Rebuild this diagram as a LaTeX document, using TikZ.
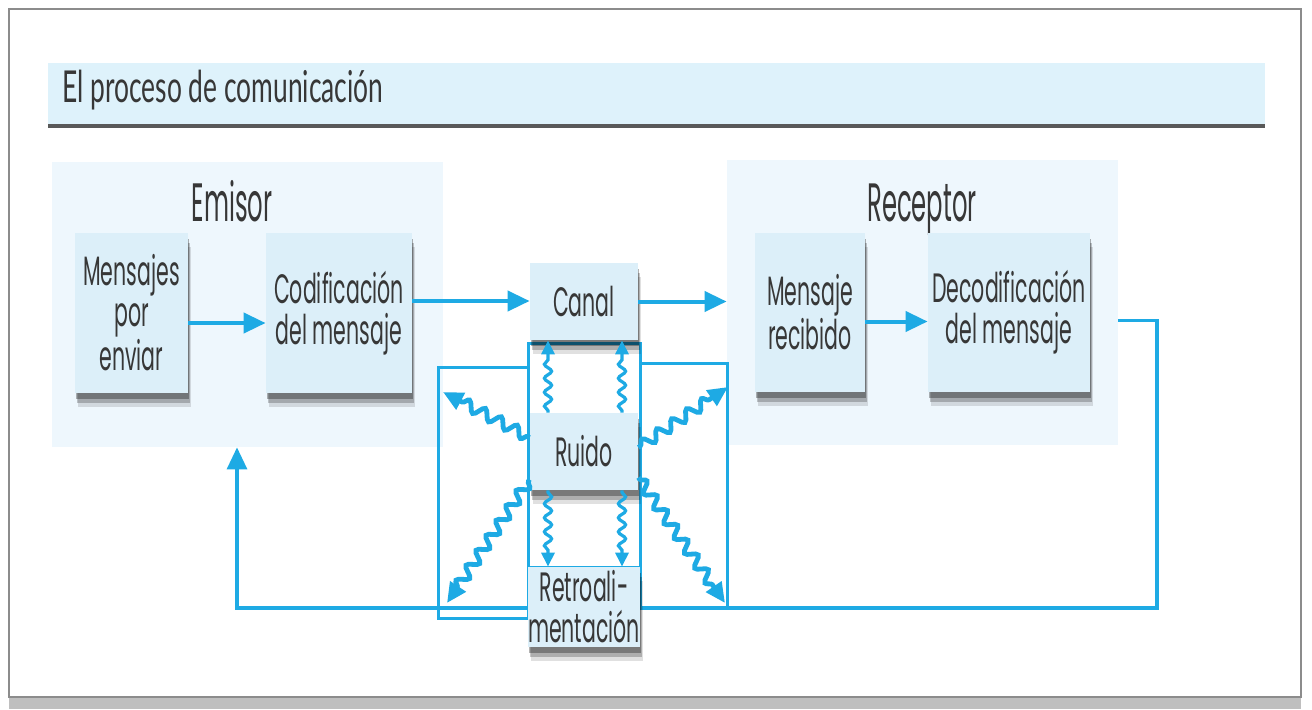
\documentclass[tikz,border=0pt]{standalone}
\usepackage{fontspec}
\setmainfont{Poppins}
\newfontfamily\boxfont[FakeStretch=0.5]{Poppins}
\newfontfamily\labfont[FakeStretch=0.45]{Poppins}
\newfontfamily\titlefont[FakeStretch=0.6]{Lato}
\usetikzlibrary{arrows.meta,decorations.pathmorphing,shadows,calc}
\definecolor{cblue}{RGB}{30,170,228}
\definecolor{boxfill}{RGB}{220,239,249}
\definecolor{panelfill}{RGB}{238,247,253}
\definecolor{bandfill}{RGB}{222,242,251}
\definecolor{txt}{RGB}{55,55,55}
\pgfdeclarelayer{back}
\pgfdeclarelayer{mid}
\pgfsetlayers{back,mid,main}
\begin{document}
\begin{tikzpicture}[x=0.5pt,y=-0.5pt,
 box/.style={fill=boxfill, inner sep=0pt, align=center, text=txt,
   font=\boxfont\fontsize{20.5}{20.5}\selectfont,
   drop shadow={shadow xshift=1.5pt, shadow yshift=-7pt, fill=black, opacity=0.12},
   drop shadow={shadow xshift=1pt, shadow yshift=-5pt, fill=black, opacity=0.22},
   drop shadow={shadow xshift=0.5pt, shadow yshift=-3pt, fill=black, opacity=0.3}},
 panel/.style={fill=panelfill, inner sep=0pt},
 lbl/.style={text=txt, font=\labfont\fontsize{27}{30}\selectfont, anchor=base},
 arr/.style={draw=cblue, line width=2pt, -{Triangle[length=11pt,width=10pt]}},
 ln/.style={draw=cblue, line width=1.5pt},
 wavy/.style={draw=cblue, line width=1.6pt, decorate,
   decoration={snake, amplitude=1.8pt, segment length=7pt, pre length=1pt, post length=7pt},
   -{Triangle[length=7pt,width=6.5pt]}},
 bigwavy/.style={draw=cblue, line width=2.4pt, decorate,
   decoration={snake, amplitude=2.6pt, segment length=9pt, pre length=1pt, post length=9pt},
   -{Triangle[length=10pt,width=9pt]}},
]
\useasboundingbox (0,0) rectangle (1312,709);

% frame and title band
\begin{pgfonlayer}{back}
\fill[white] (0,0) rectangle (1312,709);
\fill[black!25] (9,697) rectangle (1301,709);
\draw[black!45, line width=1pt] (9,9) rectangle (1301,697);
\fill[bandfill] (48,63) rectangle (1265,125);
\draw[black!65, line width=2pt] (48,126) -- (1265,126);
\node[panel, minimum width=195.5pt, minimum height=142.5pt] (emisor) at (247.5,304.5) {};
\node[panel, minimum width=195.5pt, minimum height=142.5pt] (receptor) at (922.5,302.5) {};
\end{pgfonlayer}

\node[anchor=base west, inner sep=0pt, text=txt, font=\titlefont\fontsize{22}{24}\selectfont] (title) at (62,102) {El proceso de comunicación};
\node[lbl] (emisorlbl) at (232,221) {Emisor};
\node[lbl] (receptorlbl) at (922,221) {Receptor};

% boxes
\node[box, minimum width=56.5pt, minimum height=80pt] (mens) at (131.5,313) {Mensajes\\por\\enviar};
\node[box, minimum width=73pt, minimum height=80pt] (cod) at (339,313) {Codificación\\del mensaje};
\node[box, minimum width=54pt, minimum height=38.5pt] (canal) at (584,301.5) {Canal};
\node[box, minimum width=54pt, minimum height=38.5pt] (ruido) at (584,451.5) {Ruido};
\node[box, minimum width=54pt, minimum height=40pt] (retro) at (584,607) {Retroali-\\mentación};
\node[box, minimum width=55pt, minimum height=79.5pt] (recib) at (810,312.5) {Mensaje\\recibido};
\node[box, minimum width=81pt, minimum height=79.5pt] (decod) at (1009,312.5) {Decodificación\\del mensaje};

\coordinate (fr) at (1157,608);
\coordinate (fl) at (237,608);
\coordinate (nul) at (443,392);
\coordinate (nur) at (728,387);
\coordinate (nll) at (447,603);
\coordinate (nlr) at (725,603);

% blue frame lines and feedback loop
\begin{pgfonlayer}{mid}
\draw[ln] (438,367) rectangle (528,618);
\draw[ln] (640,363) rectangle (727,608);
\draw[ln] (528,343) rectangle (640,567);
\draw[arr, line width=1.6pt] ($(receptor.east |- decod.east)+(0,-4pt)$) -| (fr) -- (fl) -- (emisor.south -| fl);
\end{pgfonlayer}

% straight arrows
\draw[arr] ([yshift=-5pt]mens.east) -- ([yshift=-5pt]cod.west);
\draw[arr] ($(cod.east)+(0,6pt)$) -- ($(cod.east -| canal.west)+(0,6pt)$);
\draw[arr] (canal.east) -- (receptor.west |- canal.east);
\draw[arr] ([yshift=-4.5pt]recib.east) -- ([yshift=-4.5pt]decod.west);

% noise arrows
\draw[wavy] ([xshift=-18pt]ruido.north) -- ([xshift=-18pt]canal.south);
\draw[wavy] ([xshift=19pt]ruido.north) -- ([xshift=19pt]canal.south);
\draw[wavy] ([xshift=-18pt]ruido.south) -- ([xshift=-18pt]retro.north);
\draw[wavy] ([xshift=19pt]ruido.south) -- ([xshift=19pt]retro.north);
\draw[bigwavy] ([yshift=7pt]ruido.west) -- (nul);
\draw[bigwavy] ([yshift=2pt]ruido.east) -- (nur);
\draw[bigwavy] ([yshift=-14pt]ruido.west) -- (nll);
\draw[bigwavy] ([yshift=-13pt]ruido.east) -- (nlr);
\end{tikzpicture}
\end{document}
